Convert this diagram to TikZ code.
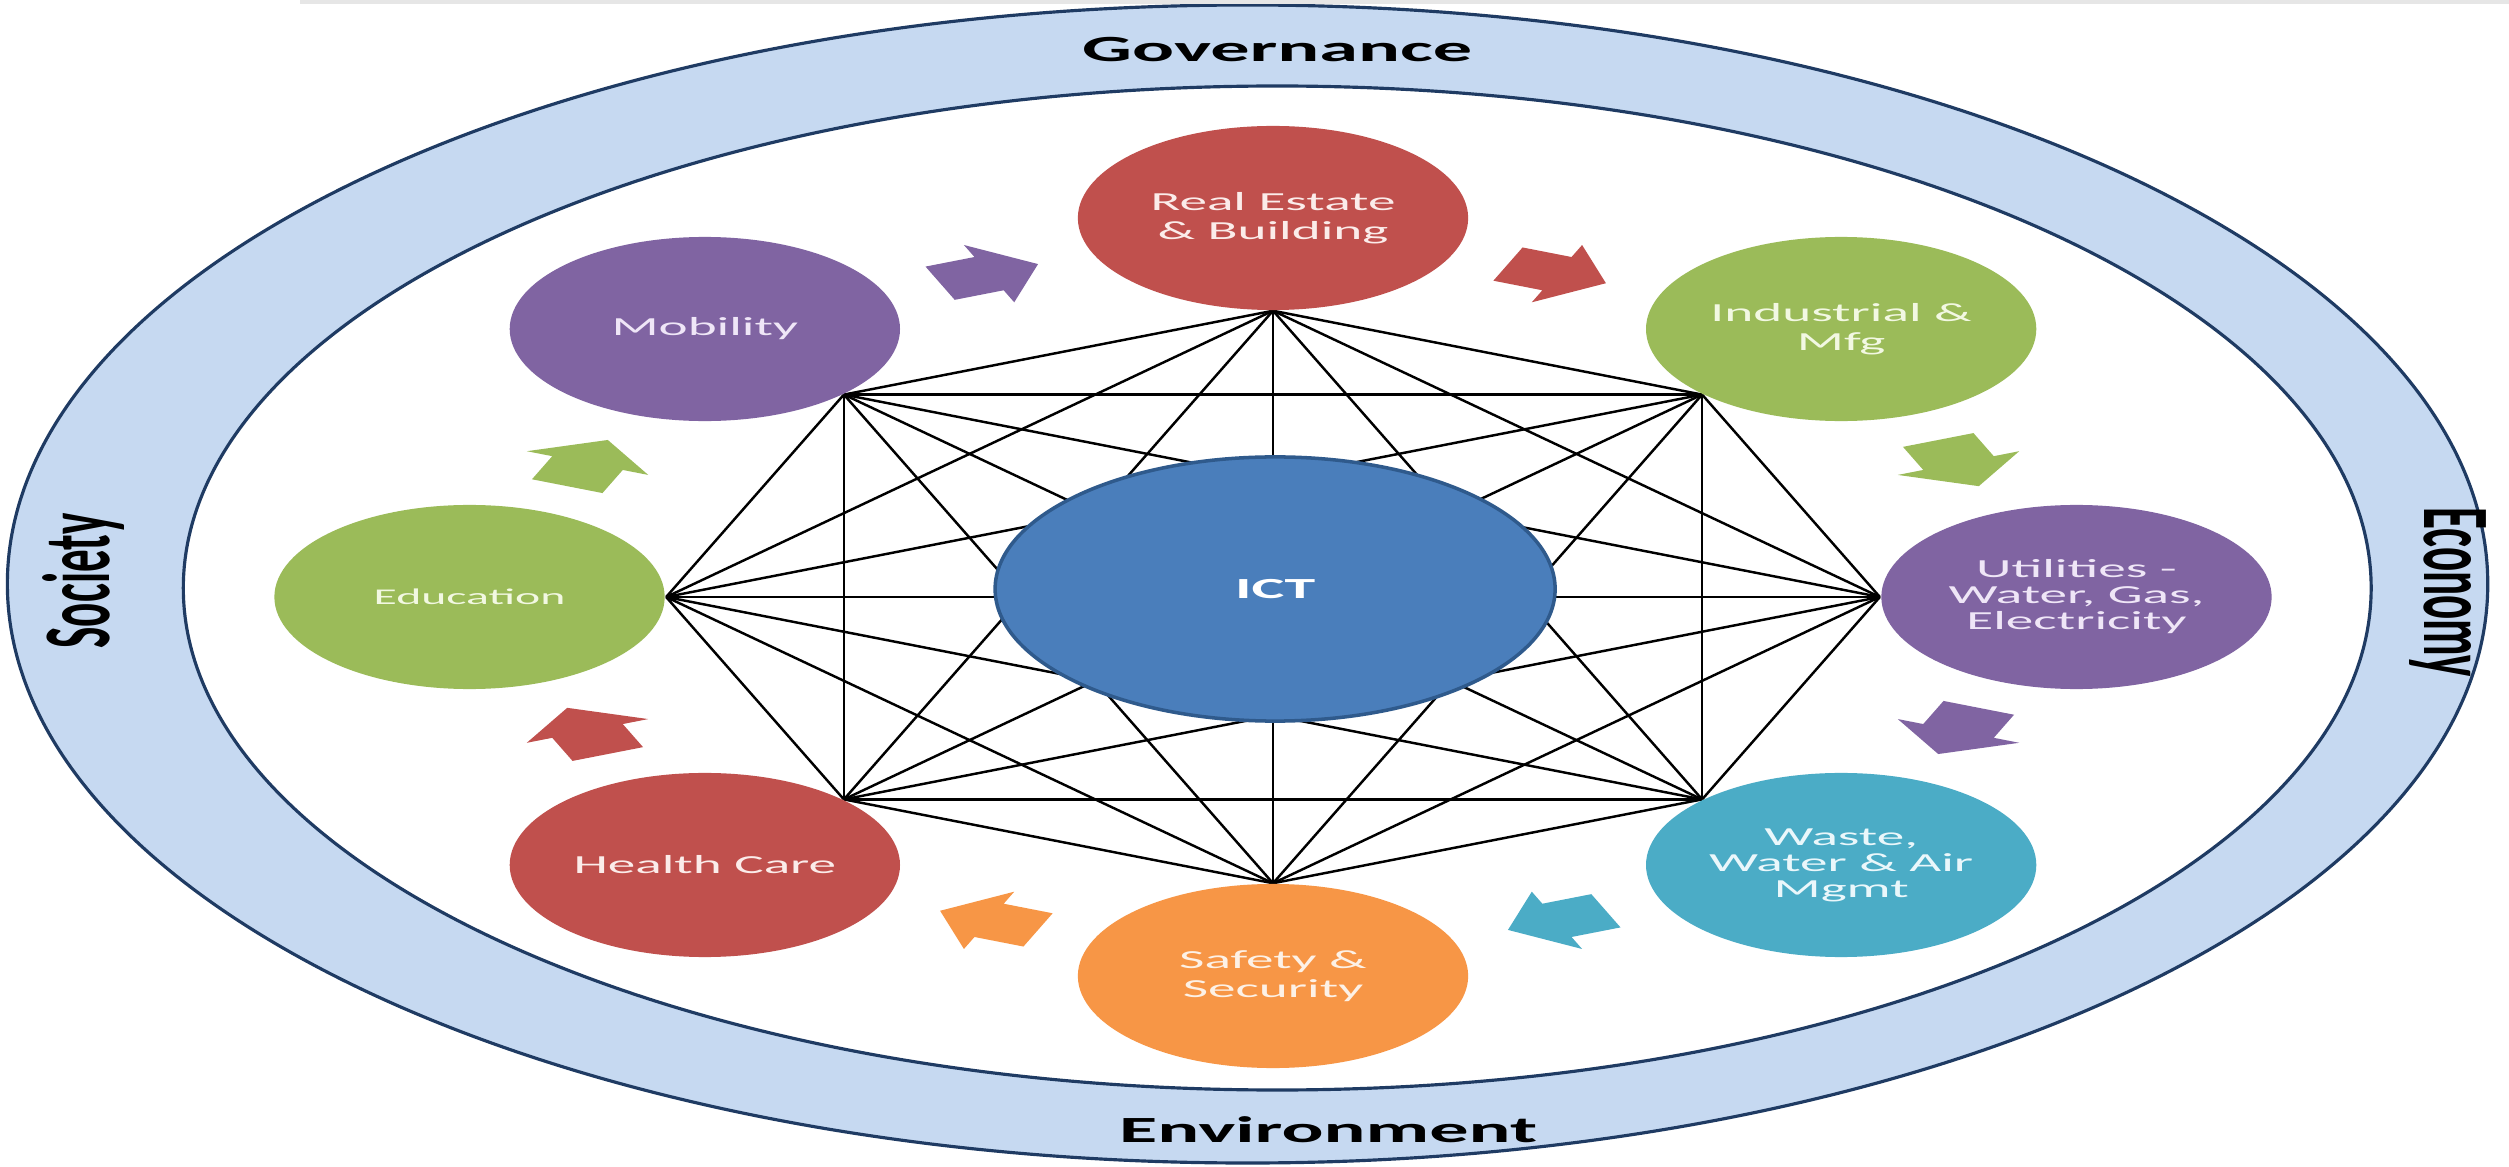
\documentclass[tikz,border=0pt]{standalone}
\usepackage{fontspec}
\setmainfont{Carlito}
\definecolor{bandfill}{HTML}{C6D9F1}
\definecolor{bandline}{HTML}{1F3B63}
\definecolor{stripgray}{HTML}{E6E6E6}
\definecolor{cpurple}{HTML}{8064A2}
\definecolor{cred}{HTML}{C0504D}
\definecolor{cgreen}{HTML}{9BBB59}
\definecolor{cteal}{HTML}{4BACC6}
\definecolor{corange}{HTML}{F79646}
\definecolor{ictblue}{HTML}{4A7EBB}
\definecolor{ictborder}{HTML}{2F5A8C}
\definecolor{tpurple}{HTML}{EFE6F7}
\definecolor{tred}{HTML}{FBECEA}
\definecolor{tgreen}{HTML}{F2F8E2}
\definecolor{tteal}{HTML}{EAF7FB}
\definecolor{torange}{HTML}{FDF1E6}
\pgfdeclarelayer{bandlayer}
\pgfdeclarelayer{linklayer}
\pgfsetlayers{bandlayer,linklayer,main}
\tikzset{
  hub/.style={circle, minimum size=1.84cm, inner sep=0pt, align=center,
    font=\fontsize{7.4}{8.2}\selectfont},
  hubthree/.style={hub, font=\fontsize{7.4}{7.4}\selectfont},
  ictnode/.style={circle, minimum size=2.64cm, inner sep=0pt, fill=ictblue,
    draw=ictborder, line width=1pt, text=white, font=\fontsize{8.3}{9}\bfseries},
  bandlabel/.style={inner sep=0pt, text=black, font=\fontsize{10.5}{12}\bfseries},
  sidelabel/.style={inner sep=0pt, text=black, font=\fontsize{12.8}{14}\bfseries},
  link/.style={draw=black, line width=0.7pt},
  bandring/.style={draw=bandline, line width=0.9pt}
}
\begin{document}
\begin{tikzpicture}[x=0.01cm,y=0.01cm]
\useasboundingbox (0,0) rectangle (2509,1166);
\fill[stripgray] (300,1162) rectangle (2509,1166);
\begin{scope}[shift={(1273,569)}, xscale=2.12, every node/.append style={transform shape}]
  \begin{pgfonlayer}{bandlayer}
    \path[bandring, fill=bandfill] (-12,13) ellipse [x radius=585, y radius=579];
    \path[bandring, fill=white] (2,9) ellipse [x radius=516, y radius=502];
  \end{pgfonlayer}
  \node[bandlabel] (gov) at (2,547) {Governance};
  \node[bandlabel] (env) at (26,-533) {Environment};
  \node[sidelabel, rotate=90] (soc) at (-561,16) {Society};
  \node[sidelabel, rotate=-90] (eco) at (554,5) {Economy};

  \node[hub, fill=cred, text=tred] (re) at (90:379) {Real Estate\\\& Building};
  \node[hub, fill=cgreen, text=tgreen] (ind) at (45:379) {Industrial \&\\Mfg};
  \node[hubthree, fill=cpurple, text=tpurple] (util) at (0:379) {Utilities -\\Water, Gas,\\Electricity};
  \node[hubthree, fill=cteal, text=tteal] (waste) at (-45:379) {Waste,\\Water \& Air\\Mgmt};
  \node[hub, fill=corange, text=torange] (ss) at (-90:379) {Safety \&\\Security};
  \node[hub, fill=cred, text=tred] (hc) at (-135:379) {Health Care};
  \node[hub, fill=cgreen, text=tgreen, font=\fontsize{6.4}{7.5}\selectfont] (edu) at (180:379) {Education};
  \node[hub, fill=cpurple, text=tpurple] (mob) at (135:379) {Mobility};

  \begin{pgfonlayer}{linklayer}
    \foreach \a/\i in {mob.-45/1, re.south/2, ind.-135/3, util.west/4, waste.135/5, ss.north/6, hc.45/7, edu.east/8} {
      \foreach \b/\j in {mob.-45/1, re.south/2, ind.-135/3, util.west/4, waste.135/5, ss.north/6, hc.45/7, edu.east/8} {
        \ifnum\j>\i \draw[link] (\a) -- (\b); \fi
      }
    }
  \end{pgfonlayer}

  \node[ictnode] (ict) at (1,8) {ICT};

  \foreach \t/\c in {112.5/cpurple, 67.5/cred, 22.5/cgreen, -22.5/cpurple, -67.5/cteal, -112.5/corange, -157.5/cred, 157.5/cgreen} {
    \fill[\c, shift={(\t:350)}, rotate=\t-90] (-25,-18) -- (0,-18) -- (0,-31) -- (25,0) -- (0,31) -- (0,18) -- (-25,18) -- cycle;
  }
\end{scope}
\end{tikzpicture}
\end{document}
